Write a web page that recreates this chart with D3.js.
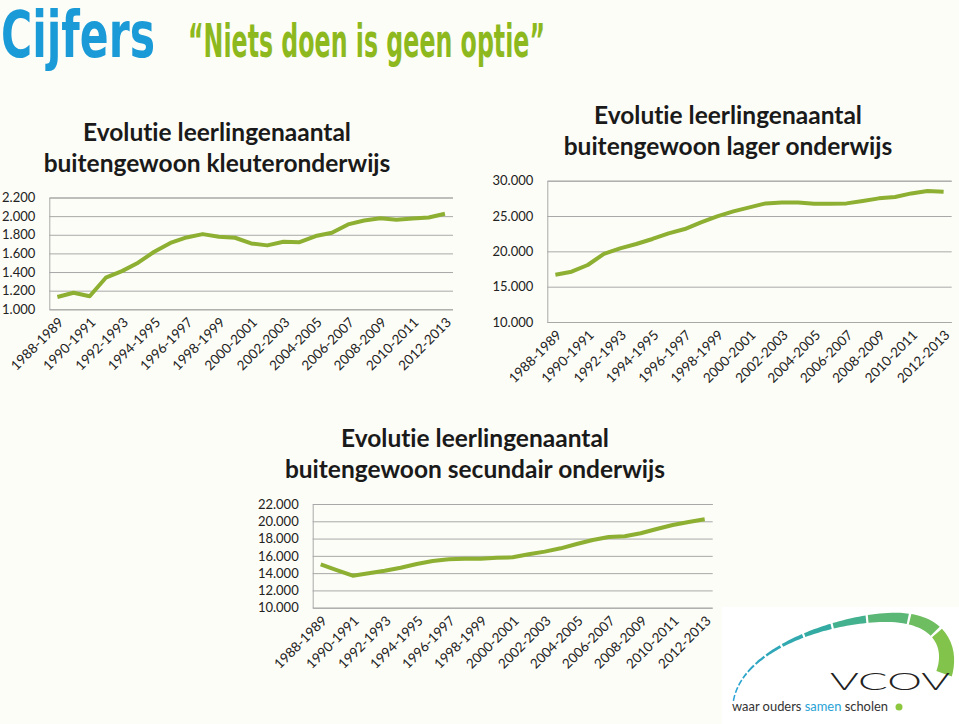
<!DOCTYPE html>
<html>
<head>
<meta charset="utf-8">
<script src="https://cdn.jsdelivr.net/npm/d3@7"></script>
<style>
  body { margin: 0; background: #fdfdf7; }
  text { font-family: Lato, "Open Sans", sans-serif; font-variant-ligatures: none; }
</style>
</head>
<body>
<div id="page"></div>
<script>
// school years, one per data point
var years = ["1988-1989","1989-1990","1990-1991","1991-1992","1992-1993","1993-1994","1994-1995",
             "1995-1996","1996-1997","1997-1998","1998-1999","1999-2000","2000-2001","2001-2002",
             "2002-2003","2003-2004","2004-2005","2005-2006","2006-2007","2007-2008","2008-2009",
             "2009-2010","2010-2011","2011-2012","2012-2013"]

// only every other year gets a label
var yearLabels = years.filter(function(d, i) { return i % 2 == 0 })

// pupils per year
var kleuter = [1132,1178,1140,1339,1410,1500,1618,1712,1771,1807,1778,1768,1707,1686,
               1725,1721,1786,1821,1911,1953,1978,1961,1975,1986,2025]
var lager = [16700,17120,18070,19640,20420,21040,21750,22550,23160,24100,24950,25660,26230,
             26790,26930,26930,26750,26750,26790,27120,27500,27690,28200,28540,28440]
var secundair = [15020,14360,13700,13980,14280,14630,15060,15400,15600,15670,15670,15790,
                 15830,16180,16490,16870,17370,17840,18180,18260,18610,19110,19570,19920,20230]

// y tick values
var kleuterTicks = [1000,1200,1400,1600,1800,2000,2200]
var lagerTicks = [10000,15000,20000,25000,30000]
var secundairTicks = [10000,12000,14000,16000,18000,20000,22000]

var lineColor = "#8db033"
var gridColor = "#a8a8a8"

// dutch number format: 2.200
var nl = d3.formatLocale({decimal: ",", thousands: ".", grouping: [3], currency: ["€", ""]})
var fmt = nl.format(",d")

var svg = d3.select("#page")
    .append("svg")
    .attr("width", 959)
    .attr("height", 724)

svg.append("rect")
    .attr("width", 959)
    .attr("height", 724)
    .attr("fill", "#fdfdf7")

// header
svg.append("text")
    .attr("x", 1)
    .attr("y", 57)
    .attr("textLength", 154)
    .attr("lengthAdjust", "spacingAndGlyphs")
    .style("font-family", "'DejaVu Sans Condensed', 'DejaVu Sans'")
    .style("font-weight", "bold")
    .style("font-size", "64px")
    .style("fill", "#1a9bd7")
    .text("Cijfers")

svg.append("text")
    .attr("x", 188)
    .attr("y", 57)
    .attr("textLength", 357)
    .attr("lengthAdjust", "spacingAndGlyphs")
    .style("font-family", "'DejaVu Sans Condensed', 'DejaVu Sans'")
    .style("font-weight", "bold")
    .style("font-size", "47px")
    .style("fill", "#8db91f")
    .text("\u201CNiets doen is geen optie\u201D")

// one line chart
function drawChart(opt) {
    var g = svg.append("g")

    var x = d3.scaleBand()
        .domain(years)
        .range([opt.left, opt.right])

    var y = d3.scaleLinear()
        .domain([opt.ticks[0], opt.ticks[opt.ticks.length - 1]])
        .range([opt.bottom, opt.top])

    // title, two lines
    var title = g.append("text")
        .attr("text-anchor", "middle")
        .style("font-weight", "bold")
        .style("font-size", "24.5px")
        .style("fill", "#1a1a1a")
    title.append("tspan")
        .attr("x", opt.titleX)
        .attr("y", opt.titleY)
        .text("Evolutie leerlingenaantal")
    title.append("tspan")
        .attr("x", opt.titleX)
        .attr("y", opt.titleY + 31)
        .text(opt.title)

    // y-axis with gridlines
    var yAxis = g.append("g")
        .attr("transform", `translate(${opt.left},0)`)
        .call(d3.axisLeft(y)
            .tickValues(opt.ticks)
            .tickFormat(fmt)
            .tickSize(-(opt.right - opt.left))
            .tickPadding(14))
    yAxis.select(".domain")
        .attr("stroke", gridColor)
    yAxis.selectAll(".tick line")
        .attr("stroke", gridColor)
    yAxis.selectAll("text")
        .style("font-size", "13px")
        .style("fill", "#222")

    // x-axis, labels turned 45 degrees
    var xAxis = g.append("g")
        .attr("transform", `translate(0,${opt.bottom})`)
        .call(d3.axisBottom(x)
            .tickValues(yearLabels)
            .tickSize(0))
    xAxis.select(".domain").remove()
    xAxis.selectAll("text")
        .attr("x", 0)
        .attr("y", 0)
        .attr("dy", null)
        .attr("text-anchor", "end")
        .attr("transform", "translate(7,14) rotate(-45)")
        .style("font-size", "13.5px")
        .style("fill", "#222")

    // the line
    var line = d3.line()
        .x(function(d, i) { return x(years[i]) + x.bandwidth() / 2 })
        .y(function(d) { return y(d) })

    g.append("path")
        .datum(opt.values)
        .attr("d", line)
        .attr("fill", "none")
        .attr("stroke", lineColor)
        .attr("stroke-width", 4)
        .attr("stroke-linejoin", "round")
}

drawChart({values: kleuter, ticks: kleuterTicks, title: "buitengewoon kleuteronderwijs",
           left: 49.3, right: 453, top: 197.5, bottom: 309.3, titleX: 217, titleY: 141})
drawChart({values: lager, ticks: lagerTicks, title: "buitengewoon lager onderwijs",
           left: 547.3, right: 951.7, top: 180.7, bottom: 322, titleX: 728, titleY: 124})
drawChart({values: secundair, ticks: secundairTicks, title: "buitengewoon secundair onderwijs",
           left: 312.7, right: 712.7, top: 504, bottom: 607.7, titleX: 475, titleY: 447})

// logo bottom right
var logo = svg.append("g")
logo.append("rect")
    .attr("x", 722)
    .attr("y", 607)
    .attr("width", 237)
    .attr("height", 117)
    .attr("fill", "#ffffff")

// swoosh: band that grows thicker to the right, cut in pieces
var arcNode = logo.append("path")
    .attr("d", "M734,702 C742,650 830,622 886,622 C932,622 946,646 936,672")
    .attr("fill", "none")
    .node()
var arcLen = arcNode.getTotalLength()
var arcColor = d3.scaleLinear()
    .domain([0, 0.45, 1])
    .range(["#2aa3d8", "#34ab9f", "#8dc63f"])
var cuts = [0, 0.03, 0.06, 0.09, 0.12, 0.16, 0.21, 0.28, 0.37, 0.48, 0.61, 0.76, 0.86, 1]
function bandWidth(t) { return 1.5 + 15 * Math.pow(t, 1.8) }
for (var s = 0; s < cuts.length - 1; s++) {
    var t0 = cuts[s] + 0.004, t1 = cuts[s + 1] - 0.004
    var inner = [], outer = []
    for (var k = 0; k <= 10; k++) {
        var t = t0 + (t1 - t0) * k / 10
        var p = arcNode.getPointAtLength(t * arcLen)
        var q = arcNode.getPointAtLength(Math.min(arcLen, t * arcLen + 0.5))
        var r = arcNode.getPointAtLength(Math.max(0, t * arcLen - 0.5))
        var dx = q.x - r.x, dy = q.y - r.y, n = Math.sqrt(dx * dx + dy * dy) || 1
        var w = bandWidth(t)
        inner.push([p.x, p.y])
        outer.push([p.x + dy / n * w, p.y - dx / n * w])
    }
    logo.append("path")
        .attr("d", d3.line()(inner.concat(outer.reverse())) + "Z")
        .attr("fill", arcColor((t0 + t1) / 2))
}

logo.append("text")
    .attr("x", 830)
    .attr("y", 690)
    .attr("textLength", 120)
    .attr("lengthAdjust", "spacingAndGlyphs")
    .style("font-size", "23px")
    .style("font-weight", "300")
    .style("fill", "#222")
    .text("VCOV")

var tag = logo.append("text")
    .attr("x", 732)
    .attr("y", 711)
    .attr("textLength", 156)
    .attr("lengthAdjust", "spacingAndGlyphs")
    .style("font-size", "13.5px")
    .style("fill", "#333")
tag.append("tspan").text("waar ouders ")
tag.append("tspan").style("fill", "#29a3d6").text("samen")
tag.append("tspan").text(" scholen")

logo.append("circle")
    .attr("cx", 899)
    .attr("cy", 707)
    .attr("r", 3.5)
    .attr("fill", "#8dc63f")
</script>
</body>
</html>
